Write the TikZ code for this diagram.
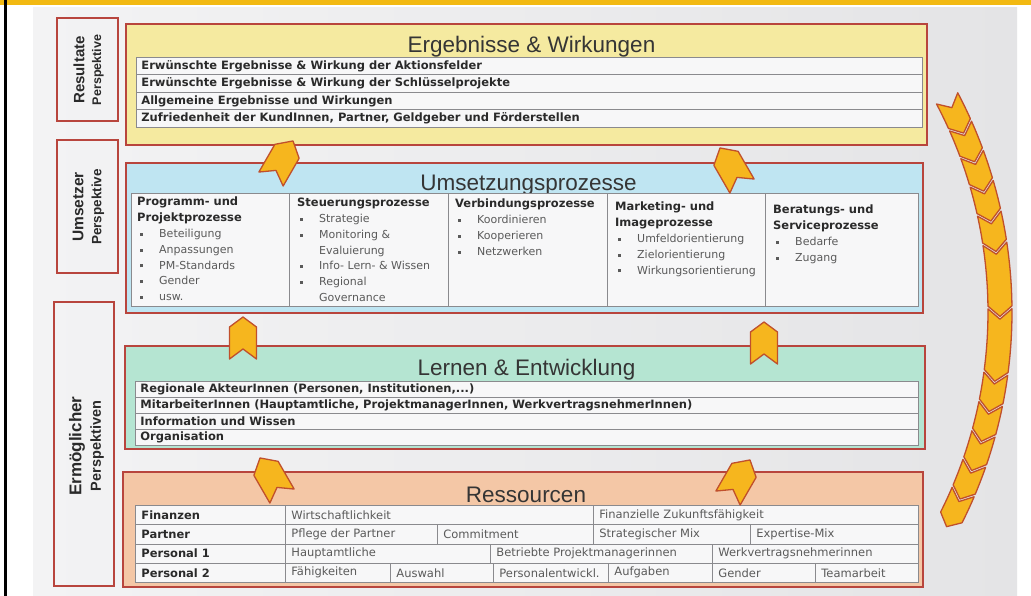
\documentclass[tikz,border=0pt]{standalone}
\usepackage{fontspec}
\setmainfont{Liberation Sans}
\newfontfamily\dv{DejaVu Sans}
\usetikzlibrary{calc}
\definecolor{bgleft}{HTML}{F3F3F4}
\definecolor{bgright}{HTML}{E4E4E6}
\definecolor{frameyellow}{HTML}{F2B912}
\definecolor{boxred}{HTML}{B8453D}
\definecolor{fillyellow}{HTML}{F5EAA0}
\definecolor{fillblue}{HTML}{BFE5F2}
\definecolor{fillgreen}{HTML}{B5E5D2}
\definecolor{fillpeach}{HTML}{F4C7A6}
\definecolor{cellfill}{HTML}{F7F7F8}
\definecolor{cellline}{HTML}{8A8A8E}
\definecolor{arrowfill}{HTML}{F6B61E}
\definecolor{arrowline}{HTML}{C0502C}
\definecolor{txtdark}{HTML}{2A2A2A}
\definecolor{txtgray}{HTML}{5A5A5A}
\definecolor{titlegray}{HTML}{353535}
\newcommand\bul{\makebox[22pt][l]{\hspace{3pt}\rule[1.8pt]{3pt}{3pt}}}
\newcommand\bulc{\hspace*{22pt}}
\newcommand\resCell[6]{\node[#6, minimum width=#4pt] (#1) at (#2,#3) {\makebox[\dimexpr#4pt-12pt\relax][l]{#5}};}
\begin{document}
\begin{tikzpicture}[x=1pt,y=-1pt,
  mainbox/.style={draw=boxred, line width=2pt, inner sep=0pt},
  persp/.style={draw=boxred, line width=1.6pt, inner sep=0pt},
  plabel/.style={rotate=90, text=txtdark, inner sep=0pt},
  ttl/.style={font=\fontsize{22.5}{24}\selectfont, text=titlegray, inner sep=0pt, anchor=base},
  erow/.style={draw=cellline, fill=cellfill, line width=0.8pt, anchor=north west, minimum height=17.5pt, inner xsep=5pt, inner ysep=0pt, font=\dv\bfseries\fontsize{11.5}{12}\selectfont, text=txtdark},
  lrow/.style={erow, minimum height=16pt},
  ucol/.style={draw=cellline, fill=cellfill, line width=0.8pt, anchor=north west, minimum height=113pt, inner sep=0pt},
  utext/.style={anchor=north west, align=left, inner sep=0pt, text=txtgray, font=\dv\fontsize{11}{15.8}\selectfont},
  rcell/.style={draw=cellline, fill=cellfill, line width=0.8pt, anchor=north west, minimum height=19.25pt, inner xsep=6pt, inner ysep=0pt, font=\dv\fontsize{11.5}{12}\selectfont, text=txtgray},
  rhead/.style={rcell, font=\dv\bfseries\fontsize{11.5}{12}\selectfont, text=txtdark},
  chev/.style={fill=arrowfill, draw=arrowline, line width=1.3pt, line join=round}
]
\useasboundingbox (0,0) rectangle (1031,596);
\fill[white] (0,0) rectangle (1031,596);
\shade[left color=bgleft, right color=bgright] (33,8) rectangle (1017,596);
\fill[frameyellow] (0,0.5) rectangle (1031,5);
\fill[black] (4,0) rectangle (7,596);

% perspective boxes
\node[persp, minimum width=61pt, minimum height=103pt] (p1) at (87.5,69.5) {};
\node[persp, minimum width=61pt, minimum height=133pt] (p2) at (87.5,206.5) {};
\node[persp, minimum width=60pt, minimum height=284pt] (p3) at (84,444) {};
\node[plabel, font=\bfseries\fontsize{15}{17}\selectfont] (p1a) at (79,70) {Resultate};
\node[plabel, font=\bfseries\fontsize{12.5}{14}\selectfont] (p1b) at (98,70) {Perspektive};
\node[plabel, font=\bfseries\fontsize{15.5}{17}\selectfont] (p2a) at (78,207) {Umsetzer};
\node[plabel, font=\bfseries\fontsize{13.5}{15}\selectfont] (p2b) at (98,207) {Perspektive};
\node[plabel, font=\bfseries\fontsize{17}{19}\selectfont] (p3a) at (77,446) {Ermöglicher};
\node[plabel, font=\bfseries\fontsize{14.5}{16}\selectfont] (p3b) at (97,446) {Perspektiven};

% main boxes
\node[mainbox, fill=fillyellow, minimum width=801pt, minimum height=121pt] (erg) at (526.5,84.5) {};
\node[mainbox, fill=fillblue, minimum width=797pt, minimum height=150pt] (ums) at (524.5,238) {};
\node[mainbox, fill=fillgreen, minimum width=800pt, minimum height=103pt] (lern) at (525,397.5) {};
\node[mainbox, fill=fillpeach, minimum width=800pt, minimum height=115pt] (res) at (523,529.5) {};

% titles
\node[ttl] (ergT) at (531.5,53) {Ergebnisse \& Wirkungen};
\node[ttl] (umsT) at (528.5,191) {Umsetzungsprozesse};
\node[ttl] (lernT) at (526.5,375) {Lernen \& Entwicklung};
\node[ttl] (resT) at (526,502) {Ressourcen};

% Ergebnisse rows
\node[erow] (e1) at (136,57) {\makebox[776pt][l]{Erwünschte Ergebnisse \& Wirkung der Aktionsfelder}};
\node[erow] (e2) at (136,74.5) {\makebox[776pt][l]{Erwünschte Ergebnisse \& Wirkung der Schlüsselprojekte}};
\node[erow] (e3) at (136,92) {\makebox[776pt][l]{Allgemeine Ergebnisse und Wirkungen}};
\node[erow] (e4) at (136,109.5) {\makebox[776pt][l]{Zufriedenheit der KundInnen, Partner, Geldgeber und Förderstellen}};

% Umsetzung columns
\node[ucol, minimum width=158pt] (u1) at (131,193) {};
\node[ucol, minimum width=159pt] (u2) at (289,193) {};
\node[ucol, minimum width=159pt] (u3) at (448,193) {};
\node[ucol, minimum width=158pt] (u4) at (607,193) {};
\node[ucol, minimum width=153pt] (u5) at (765,193) {};
\node[utext] (u1t) at (137,197) {{\bfseries\fontsize{11.5}{15.8}\selectfont\color{txtdark}Programm- und}\\{\bfseries\fontsize{11.5}{15.8}\selectfont\color{txtdark}Projektprozesse}\\\bul Beteiligung\\\bul Anpassungen\\\bul PM-Standards\\\bul Gender\\\bul usw.};
\node[utext] (u2t) at (297,198) {{\bfseries\fontsize{11.5}{15.8}\selectfont\color{txtdark}Steuerungsprozesse}\\\bul Strategie\\\bul Monitoring \&\\\bulc Evaluierung\\\bul Info- Lern- \& Wissen\\\bul Regional\\\bulc Governance};
\node[utext] (u3t) at (455,199) {{\bfseries\fontsize{11.5}{15.8}\selectfont\color{txtdark}Verbindungsprozesse}\\\bul Koordinieren\\\bul Kooperieren\\\bul Netzwerken};
\node[utext] (u4t) at (615,202) {{\bfseries\fontsize{11.5}{15.8}\selectfont\color{txtdark}Marketing- und}\\{\bfseries\fontsize{11.5}{15.8}\selectfont\color{txtdark}Imageprozesse}\\\bul Umfeldorientierung\\\bul Zielorientierung\\\bul Wirkungsorientierung};
\node[utext] (u5t) at (773,205) {{\bfseries\fontsize{11.5}{15.8}\selectfont\color{txtdark}Beratungs- und}\\{\bfseries\fontsize{11.5}{15.8}\selectfont\color{txtdark}Serviceprozesse}\\\bul Bedarfe\\\bul Zugang};

% Lernen rows
\node[lrow] (l1) at (135,381) {\makebox[773pt][l]{Regionale AkteurInnen (Personen, Institutionen,...)}};
\node[lrow] (l2) at (135,397) {\makebox[773pt][l]{MitarbeiterInnen (Hauptamtliche, ProjektmanagerInnen, WerkvertragsnehmerInnen)}};
\node[lrow] (l3) at (135,413) {\makebox[773pt][l]{Information und Wissen}};
\node[lrow] (l4) at (135,429) {\makebox[773pt][l]{Organisation}};

% Ressourcen table
\resCell{r00}{135}{505}{150}{Finanzen}{rhead}
\resCell{r01}{285}{505}{308}{Wirtschaftlichkeit}{rcell}
\resCell{r02}{593}{505}{325}{Finanzielle Zukunftsfähigkeit}{rcell}
\resCell{r10}{135}{524.25}{150}{Partner}{rhead}
\resCell{r11}{285}{524.25}{152}{Pflege der Partner}{rcell}
\resCell{r12}{437}{524.25}{156}{Commitment}{rcell}
\resCell{r13}{593}{524.25}{157}{Strategischer Mix}{rcell}
\resCell{r14}{750}{524.25}{168}{Expertise-Mix}{rcell}
\resCell{r20}{135}{543.5}{150}{Personal 1}{rhead}
\resCell{r21}{285}{543.5}{205}{Hauptamtliche}{rcell}
\resCell{r22}{490}{543.5}{222}{Betriebte Projektmanagerinnen}{rcell}
\resCell{r23}{712}{543.5}{206}{Werkvertragsnehmerinnen}{rcell}
\resCell{r30}{135}{562.75}{150}{Personal 2}{rhead}
\resCell{r31}{285}{562.75}{105}{Fähigkeiten}{rcell}
\resCell{r32}{390}{562.75}{103}{Auswahl}{rcell}
\resCell{r33}{493}{562.75}{115}{Personalentwickl.}{rcell}
\resCell{r34}{608}{562.75}{104}{Aufgaben}{rcell}
\resCell{r35}{712}{562.75}{103}{Gender}{rcell}
\resCell{r36}{815}{562.75}{103}{Teamarbeit}{rcell}

% chevron arrows between the levels
\draw[chev, shift={(282,160)}, rotate=-30] (0,-22) -- (14,-10) -- (14,22) -- (0,12) -- (-14,22) -- (-14,-10) -- cycle;
\draw[chev, shift={(731,167)}, rotate=30] (0,-22) -- (14,-10) -- (14,22) -- (0,12) -- (-14,22) -- (-14,-10) -- cycle;
\draw[chev, shift={(243,338)}] (0,-21) -- (13.5,-11) -- (13.5,21) -- (0,11) -- (-13.5,21) -- (-13.5,-11) -- cycle;
\draw[chev, shift={(764,343)}] (0,-21) -- (13.5,-11) -- (13.5,21) -- (0,11) -- (-13.5,21) -- (-13.5,-11) -- cycle;
\draw[chev, shift={(271,477)}, rotate=30] (0,-22) -- (14,-10) -- (14,22) -- (0,12) -- (-14,22) -- (-14,-10) -- cycle;
\draw[chev, shift={(739,479)}, rotate=-30] (0,-22) -- (14,-10) -- (14,22) -- (0,12) -- (-14,22) -- (-14,-10) -- cycle;

% arc of chevrons on the right
\coordinate (arcC) at (542,312);
\foreach \a/\b in {-27.8/-24.3, -23.95/-20.45, -20.1/-16.6, -16.25/-12.75, -12.4/-8.9, -8.55/-0.75, -0.4/7.4, 7.75/11.25, 11.6/15.1, 15.45/18.95, 19.3/22.8, 23.15/26.65}{
  \pgfmathsetmacro\an{\a+1.3}
  \pgfmathsetmacro\bn{\b+1.3}
  \draw[chev, shift={(arcC)}] (\a:470) -- (\an:458) -- (\a:446) arc[start angle=\a, end angle=\b, radius=446] -- (\bn:458) -- (\b:470) arc[start angle=\b, end angle=\a, radius=470] -- cycle;
}
\end{tikzpicture}
\end{document}
